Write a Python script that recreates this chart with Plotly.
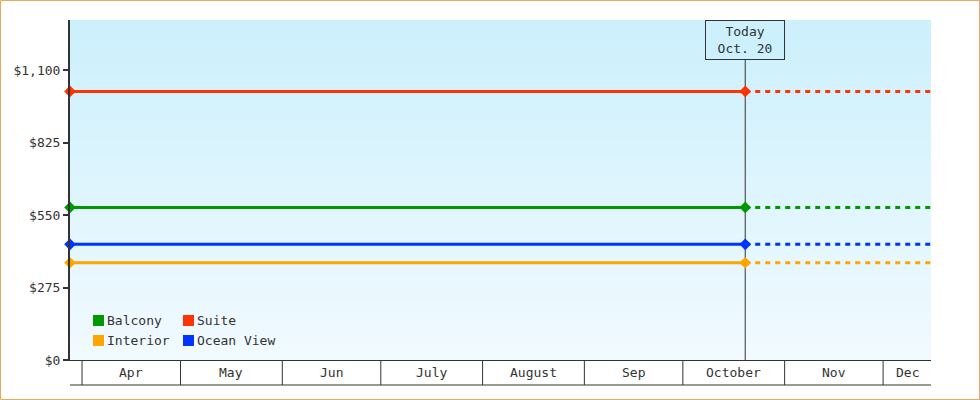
import plotly.graph_objects as go
import pandas as pd

# ---- data ----
series_names = ["Suite", "Balcony", "Ocean View", "Interior"]
series_values = [1019, 579, 439, 369]
series_colors = ["#ff3300", "#009900", "#0033ff", "#ffa500"]
start_date = "2024-03-28 08:00"
today_date = "2024-10-20"
end_date = "2024-12-15 14:00"
today_label = "Today<br>Oct. 20"
month_starts = ["2024-03-01", "2024-04-01", "2024-05-01", "2024-06-01", "2024-07-01",
                "2024-08-01", "2024-09-01", "2024-10-01", "2024-11-01", "2024-12-01", "2025-01-01"]
month_labels = ["", "Apr", "May", "Jun", "July", "August", "Sep", "October", "Nov", "Dec"]
y_ticks = [0, 275, 550, 825, 1100]
y_tick_labels = ["$0", "$275", "$550", "$825", "$1,100"]
y_max = 1290
legend_rows = [["Balcony", "Suite"], ["Interior", "Ocean View"]]

# ---- layout geometry ----
W, H = 980, 400
ML, MR, MT, MB = 70, 49, 20, 40
PW, PH = W - ML - MR, H - MT - MB
FONT = "DejaVu Sans Mono"
INK = "#333333"

def px_x(p):
    return (p - ML) / PW

def px_y(p):
    return (MT + PH - p) / PH

fig = go.Figure()

for name, val, col in zip(series_names, series_values, series_colors):
    fig.add_trace(go.Scatter(x=[today_date, end_date], y=[val, val], mode="lines",
                             line=dict(color=col, width=3, dash="5px,5px"),
                             showlegend=False, hoverinfo="skip"))
    fig.add_trace(go.Scatter(x=[start_date, today_date], y=[val, val], mode="lines+markers",
                             line=dict(color=col, width=3), marker=dict(symbol="diamond", size=9, color=col),
                             showlegend=False, hoverinfo="skip", cliponaxis=False))

shapes = []
# background gradient
top_c = (204, 240, 252)
bot_c = (241, 250, 255)
n = 68
for i in range(n):
    t = i / (n - 1)
    c = tuple(round(top_c[k] + (bot_c[k] - top_c[k]) * t) for k in range(3))
    shapes.append(dict(type="rect", xref="paper", yref="paper", x0=0, x1=1,
                       y0=1 - (i + 1) / n, y1=1 - i / n, line=dict(width=0),
                       fillcolor="rgb(%d,%d,%d)" % c, layer="below"))

# today line
box_h = 40
shapes.append(dict(type="line", xref="x", yref="paper", x0=today_date, x1=today_date,
                   y0=0, y1=1 - box_h / PH, line=dict(color=INK, width=1), layer="below"))

# month band
band = 25 / PH
ms = [pd.Timestamp(m) for m in month_starts]
s0, s1 = pd.Timestamp(start_date), pd.Timestamp(end_date)
annotations = []
for i, m in enumerate(ms[:-1]):
    a, b = max(m, s0), min(ms[i + 1], s1)
    if a >= b:
        continue
    if m >= s0 and m <= s1:
        shapes.append(dict(type="line", xref="x", yref="paper", x0=m, x1=m, y0=-band, y1=0,
                           line=dict(color=INK, width=1)))
    if month_labels[i]:
        annotations.append(dict(x=a + (b - a) / 2, y=-band / 2, xref="x", yref="paper",
                                xanchor="center", yanchor="middle",
                                text=month_labels[i], showarrow=False,
                                font=dict(family=FONT, size=13, color=INK)))
shapes.append(dict(type="line", xref="paper", yref="paper", x0=0, x1=1, y0=-band, y1=-band,
                   line=dict(color=INK, width=1)))

# outer border
shapes.append(dict(type="rect", xref="paper", yref="paper",
                   x0=px_x(0.5), x1=px_x(W - 0.5), y0=px_y(H - 0.5), y1=px_y(0.5),
                   line=dict(color="#eaa862", width=1), fillcolor="rgba(0,0,0,0)"))

# today box
annotations.append(dict(x=today_date, y=1, xref="x", yref="paper", yanchor="top",
                        text=today_label, showarrow=False, width=78, height=38, borderpad=0,
                        bordercolor=INK, borderwidth=1, bgcolor="rgb(204,240,252)",
                        font=dict(family=FONT, size=13, color=INK)))

# legend (manual)
col_x = [93, 183]
row_y = [315, 335]
color_of = dict(zip(series_names, series_colors))
for r, row in enumerate(legend_rows):
    for c, name in enumerate(row):
        x0, y0 = col_x[c], row_y[r]
        shapes.append(dict(type="rect", xref="paper", yref="paper",
                           x0=px_x(x0), x1=px_x(x0 + 11), y0=px_y(y0 + 11), y1=px_y(y0),
                           line=dict(width=0), fillcolor=color_of[name]))
        annotations.append(dict(x=px_x(x0 + 12), y=px_y(y0 + 5.5), xref="paper", yref="paper",
                                xanchor="left", yanchor="middle", text=name, showarrow=False,
                                font=dict(family=FONT, size=13, color=INK)))

fig.update_layout(
    width=W, height=H, margin=dict(l=ML, r=MR, t=MT, b=MB),
    paper_bgcolor="white", plot_bgcolor="rgba(0,0,0,0)",
    font=dict(family=FONT, size=13, color=INK),
    shapes=shapes, annotations=annotations, showlegend=False,
    xaxis=dict(type="date", range=[start_date, end_date], showticklabels=False, ticks="",
               showgrid=False, zeroline=False, showline=True, linecolor=INK, linewidth=1),
    yaxis=dict(range=[0, y_max], tickvals=y_ticks, ticktext=y_tick_labels, ticks="outside",
               ticklen=5, tickwidth=2, tickcolor=INK, showline=True, linecolor=INK, linewidth=2,
               showgrid=False, zeroline=False, tickfont=dict(family=FONT, size=13, color=INK)),
)

fig.write_html("out.html", config={"displayModeBar": False},
               post_script="document.body.style.margin='0';")
